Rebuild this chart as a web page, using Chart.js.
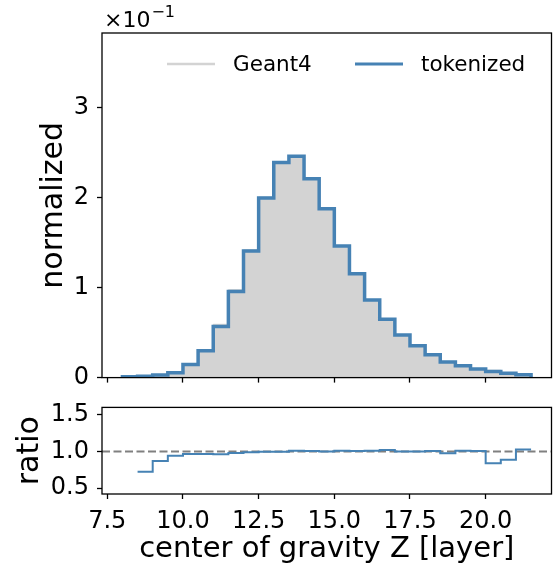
<!DOCTYPE html>
<html>
<head>
<meta charset="utf-8">
<script src="https://cdn.jsdelivr.net/npm/chart.js@4.4.1/dist/chart.umd.min.js"></script>
<style>
  html, body { margin: 0; padding: 0; background: #fff; width: 555px; height: 568px; overflow: hidden; }
  #main { position: absolute; left: 0; top: 0; }
  #ratio { position: absolute; left: 0; top: 385px; }
</style>
</head>
<body>
<canvas id="main" width="555" height="400"></canvas>
<canvas id="ratio" width="555" height="183"></canvas>
<script>
// ---------------- data ----------------
const binEdges = [8.0, 8.5, 9.0, 9.5, 10.0, 10.5, 11.0, 11.5, 12.0, 12.5, 13.0, 13.5, 14.0, 14.5,
                  15.0, 15.5, 16.0, 16.5, 17.0, 17.5, 18.0, 18.5, 19.0, 19.5, 20.0, 20.5, 21.0, 21.5];
const geant4Values = [0.0009, 0.0021, 0.0034, 0.0059, 0.0151, 0.0311, 0.0593, 0.0978, 0.1421, 0.2008,
                      0.2404, 0.2438, 0.2202, 0.1877, 0.1450, 0.1149, 0.0855, 0.0636, 0.0474, 0.0353,
                      0.0254, 0.0177, 0.0130, 0.0096, 0.0082, 0.0053, 0.0030];
const tokenizedValues = [0.0010, 0.0015, 0.0030, 0.0055, 0.0146, 0.0300, 0.0569, 0.0958, 0.1407, 0.1998,
                         0.2392, 0.2462, 0.2213, 0.1877, 0.1464, 0.1155, 0.0864, 0.0649, 0.0474, 0.0353,
                         0.0255, 0.0173, 0.0131, 0.0096, 0.0069, 0.0047, 0.0031];
const ratioEdges = [8.5, 9.0, 9.5, 10.0, 10.5, 11.0, 11.5, 12.0, 12.5, 13.0, 13.5, 14.0, 14.5,
                    15.0, 15.5, 16.0, 16.5, 17.0, 17.5, 18.0, 18.5, 19.0, 19.5, 20.0, 20.5, 21.0, 21.5];
const ratioValues = [0.722, 0.870, 0.940, 0.965, 0.965, 0.960, 0.980, 0.990, 0.995, 0.995, 1.010, 1.005, 1.000,
                     1.010, 1.005, 1.010, 1.020, 1.000, 1.000, 1.005, 0.975, 1.010, 1.005, 0.840, 0.887, 1.026];
const xTickValues = [7.5, 10.0, 12.5, 15.0, 17.5, 20.0];
const mainYTickValues = [0, 0.1, 0.2, 0.3];
const ratioYTickValues = [0.5, 1.0, 1.5];
const referenceRatio = 1.0;
const seriesNames = ['Geant4', 'tokenized'];
const xAxisLabel = 'center of gravity Z [layer]';
const mainYAxisLabel = 'normalized';
const ratioYAxisLabel = 'ratio';
const xRange = [7.325, 22.175];
const mainYRange = [0, 0.3833];
const ratioYRange = [0.42, 1.6];

// ---------------- styling ----------------
const FAMILY = "'DejaVu Sans', 'Liberation Sans', sans-serif";
const BLUE = '#4682b4';
const LIGHT = '#d3d3d3';
const AXIS_W = 1.3;
const TICK_FONT = 24;
const LABEL_FONT = 30;
const XLABEL_FONT = 29;

function histPoints(edges, vals) {
  const pts = [{ x: edges[0], y: 0 }];
  vals.forEach((v, i) => pts.push({ x: edges[i], y: v }));
  pts.push({ x: edges[edges.length - 1], y: vals[vals.length - 1] });
  pts.push({ x: edges[edges.length - 1], y: 0 });
  return pts;
}
function stepPoints(edges, vals) {
  const pts = vals.map((v, i) => ({ x: edges[i], y: v }));
  pts.push({ x: edges[edges.length - 1], y: vals[vals.length - 1] });
  return pts;
}
const setTicks = (values) => (scale) => { scale.ticks = values.map(v => ({ value: v })); };
const gridOpts = { drawOnChartArea: false, drawTicks: true, tickLength: 5, tickColor: '#000', tickWidth: AXIS_W };

const boxPlugin = {
  id: 'box',
  afterDatasetsDraw(chart) {
    const { ctx, chartArea: a } = chart;
    ctx.save();
    ctx.strokeStyle = '#000';
    ctx.lineWidth = AXIS_W;
    ctx.strokeRect(a.left, a.top, a.right - a.left, a.bottom - a.top);
    ctx.restore();
  }
};

const legendPlugin = {
  id: 'mplLegend',
  afterDraw(chart) {
    const { ctx, chartArea: a } = chart;
    const y = a.top + 31;
    const items = [
      { ds: chart.data.datasets[0], x0: a.left + 65 },
      { ds: chart.data.datasets[1], x0: a.left + 253 }
    ];
    ctx.save();
    ctx.font = '21.5px ' + FAMILY;
    ctx.textBaseline = 'middle';
    ctx.textAlign = 'left';
    items.forEach(it => {
      ctx.strokeStyle = it.ds.borderColor;
      ctx.lineWidth = it.ds.legendLineWidth;
      ctx.beginPath();
      ctx.moveTo(it.x0, y);
      ctx.lineTo(it.x0 + 48, y);
      ctx.stroke();
      ctx.fillStyle = '#000';
      ctx.fillText(it.ds.label, it.x0 + 66, y + 1);
    });
    ctx.restore();
  }
};

const offsetTextPlugin = {
  id: 'offsetText',
  afterDraw(chart) {
    const { ctx, chartArea: a } = chart;
    ctx.save();
    ctx.fillStyle = '#000';
    ctx.textBaseline = 'alphabetic';
    ctx.textAlign = 'left';
    ctx.font = '22px ' + FAMILY;
    const base = '\u00d710';
    ctx.fillText(base, a.left + 2, a.top - 6);
    const w = ctx.measureText(base).width;
    ctx.font = '16px ' + FAMILY;
    ctx.fillText('\u22121', a.left + 3 + w, a.top - 16);
    ctx.restore();
  }
};

const refLinePlugin = {
  id: 'refLine',
  beforeDatasetsDraw(chart) {
    const { ctx, chartArea: a, scales } = chart;
    const y = scales.y.getPixelForValue(referenceRatio);
    ctx.save();
    ctx.strokeStyle = '#808080';
    ctx.lineWidth = 2;
    ctx.setLineDash([8, 3.5]);
    ctx.beginPath();
    ctx.moveTo(a.left, y);
    ctx.lineTo(a.right, y);
    ctx.stroke();
    ctx.restore();
  }
};

Chart.defaults.font.family = FAMILY;
Chart.defaults.color = '#000';

new Chart(document.getElementById('main'), {
  type: 'line',
  data: {
    datasets: [
      {
        label: seriesNames[0],
        data: histPoints(binEdges, geant4Values),
        stepped: 'before',
        fill: 'origin',
        backgroundColor: LIGHT,
        borderColor: LIGHT,
        borderWidth: 1,
        legendLineWidth: 2.5,
        pointRadius: 0,
        order: 2
      },
      {
        label: seriesNames[1],
        data: histPoints(binEdges, tokenizedValues),
        stepped: 'before',
        fill: false,
        borderColor: BLUE,
        borderWidth: 3.5,
        legendLineWidth: 3,
        pointRadius: 0,
        order: 1
      }
    ]
  },
  options: {
    responsive: false,
    animation: false,
    devicePixelRatio: 1,
    layout: { padding: { top: 33, right: 3.5, left: 0, bottom: 0 } },
    plugins: { legend: { display: false }, tooltip: { enabled: false } },
    scales: {
      x: {
        type: 'linear',
        min: xRange[0], max: xRange[1],
        afterBuildTicks: setTicks(xTickValues),
        ticks: { display: false },
        grid: gridOpts,
        border: { display: false },
        afterFit: (s) => { s.height = 17; }
      },
      y: {
        type: 'linear',
        min: mainYRange[0], max: mainYRange[1],
        afterBuildTicks: setTicks(mainYTickValues),
        ticks: { font: { size: TICK_FONT }, padding: 8, callback: (v) => (v * 10).toFixed(0) },
        title: { display: true, text: mainYAxisLabel, font: { size: LABEL_FONT }, padding: { top: 36, bottom: 0 } },
        grid: gridOpts,
        border: { display: false },
        afterFit: (s) => { s.width = 102; }
      }
    }
  },
  plugins: [boxPlugin, legendPlugin, offsetTextPlugin]
});

new Chart(document.getElementById('ratio'), {
  type: 'line',
  data: {
    datasets: [
      {
        label: seriesNames[1] + ' / ' + seriesNames[0],
        data: stepPoints(ratioEdges, ratioValues),
        stepped: 'before',
        fill: false,
        borderColor: BLUE,
        borderWidth: 2,
        pointRadius: 0
      }
    ]
  },
  options: {
    responsive: false,
    animation: false,
    devicePixelRatio: 1,
    layout: { padding: { top: 17, right: 3.5, left: 0, bottom: 0 } },
    plugins: { legend: { display: false }, tooltip: { enabled: false } },
    scales: {
      x: {
        type: 'linear',
        min: xRange[0], max: xRange[1],
        afterBuildTicks: setTicks(xTickValues),
        ticks: { font: { size: TICK_FONT }, padding: 8, maxRotation: 0, callback: (v) => v.toFixed(1) },
        title: { display: true, text: xAxisLabel, font: { size: XLABEL_FONT }, padding: { top: 0, bottom: 1 } },
        grid: gridOpts,
        border: { display: false },
        afterFit: (s) => { s.height = 74; }
      },
      y: {
        type: 'linear',
        min: ratioYRange[0], max: ratioYRange[1],
        afterBuildTicks: setTicks(ratioYTickValues),
        ticks: { font: { size: TICK_FONT }, padding: 8, callback: (v) => v.toFixed(1) },
        title: { display: true, text: ratioYAxisLabel, font: { size: LABEL_FONT }, padding: { top: 12, bottom: 0 } },
        grid: gridOpts,
        border: { display: false },
        afterFit: (s) => { s.width = 102; }
      }
    }
  },
  plugins: [boxPlugin, refLinePlugin]
});
</script>
</body>
</html>
